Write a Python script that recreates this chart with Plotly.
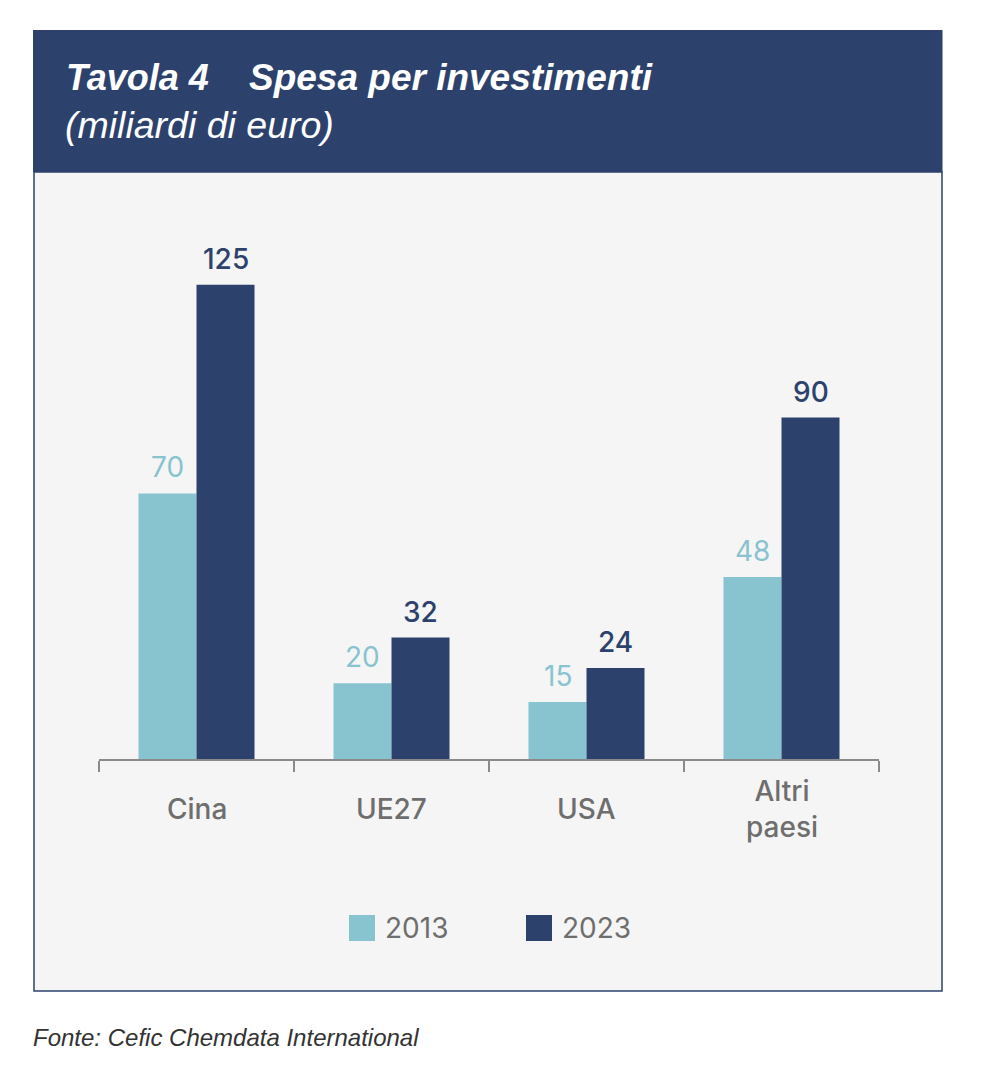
import plotly.graph_objects as go

categories = ["Cina", "UE27", "USA", "Altri<br>paesi"]
series_names = ["2013", "2023"]
values_2013 = [70, 20, 15, 48]
values_2023 = [125, 32, 24, 90]

title_main = "Tavola 4"
title_sub = "Spesa per investimenti"
subtitle = "(miliardi di euro)"
source = "Fonte: Cefic Chemdata International"

LIGHT = "#88c3d0"
NAVY = "#2c426c"
GRAY = "#6e6e6e"
FONT = "Liberation Sans, Arial, Helvetica, sans-serif"
LFONT = "Inter, Liberation Sans, Arial, sans-serif"

OFF = 8  # page body margin
W, H = 987 - 2 * OFF, 1082 - 2 * OFF
PL, PR, PT, PB = 99, 879, 209, 759  # plot area bounds in reference pixels


def fx(px):
    return (px - PL) / (PR - PL)


def fy(py):
    return (PB - py) / (PB - PT)


fig = go.Figure()
for name, vals, col in [(series_names[0], values_2013, LIGHT), (series_names[1], values_2023, NAVY)]:
    fig.add_trace(go.Bar(
        x=categories, y=vals, name=name,
        marker=dict(color=col, line=dict(width=0)),
        showlegend=False, hoverinfo="x+y+name",
    ))

shapes = [
    dict(type="rect", xref="paper", yref="paper", layer="below",
         x0=fx(34), x1=fx(942), y0=fy(991), y1=fy(172),
         fillcolor="#f5f5f5", line=dict(color=NAVY, width=1.5)),
    dict(type="rect", xref="paper", yref="paper", layer="below",
         x0=fx(33), x1=fx(942.5), y0=fy(172), y1=fy(30),
         fillcolor=NAVY, line=dict(width=0)),
]

annotations = [
    dict(text="<b><i>%s</i></b>" % title_main, xref="paper", yref="paper",
         x=fx(64), y=fy(77), xanchor="left", yanchor="middle", showarrow=False,
         font=dict(family=FONT, size=36, color="white")),
    dict(text="<b><i>%s</i></b>" % title_sub, xref="paper", yref="paper",
         x=fx(247), y=fy(77), xanchor="left", yanchor="middle", showarrow=False,
         font=dict(family=FONT, size=37, color="white")),
    dict(text="<i>%s</i>" % subtitle, xref="paper", yref="paper",
         x=fx(63), y=fy(125), xanchor="left", yanchor="middle", showarrow=False,
         font=dict(family=FONT, size=37.5, color="white")),
    dict(text="<i>%s</i>" % source, xref="paper", yref="paper",
         x=fx(31), y=fy(1037), xanchor="left", yanchor="middle", showarrow=False,
         font=dict(family=FONT, size=24, color="#333333")),
]

# value labels above bars
for vals, col, shift, weight in [(values_2013, LIGHT, -29, 400), (values_2023, NAVY, 29, 500)]:
    for c, v in zip(categories, vals):
        annotations.append(dict(text=str(v), xref="x", yref="y", x=c, y=v,
                                xshift=shift, yshift=7, xanchor="center", yanchor="bottom",
                                showarrow=False,
                                font=dict(family=LFONT, size=28, color=col, weight=weight)))

# category labels
for c in categories:
    annotations.append(dict(text=c, xref="x", yref="paper", x=c, y=fy(809),
                            xanchor="center", yanchor="middle", showarrow=False,
                            font=dict(family=LFONT, size=28, color=GRAY, weight=500)))

# manual legend
leg_x = [349, 526]
for i, (name, col) in enumerate(zip(series_names, [LIGHT, NAVY])):
    x0 = leg_x[i]
    shapes.append(dict(type="rect", xref="paper", yref="paper",
                       x0=fx(x0), x1=fx(x0 + 26), y0=fy(941), y1=fy(915),
                       fillcolor=col, line=dict(width=0)))
    annotations.append(dict(text=name, xref="paper", yref="paper",
                            x=fx(x0 + 34), y=fy(928), xanchor="left", yanchor="middle",
                            showarrow=False, font=dict(family=LFONT, size=28, color=GRAY)))

fig.update_layout(
    width=W, height=H,
    margin=dict(l=PL - OFF, r=W - (PR - OFF), t=PT - OFF, b=H - (PB - OFF), pad=0),
    paper_bgcolor="white", plot_bgcolor="rgba(0,0,0,0)",
    barmode="group", bargap=0.405, bargroupgap=0,
    showlegend=False,
    shapes=shapes, annotations=annotations,
    xaxis=dict(showline=True, linecolor="#8a8a8a", linewidth=2,
               ticks="outside", tickson="boundaries", ticklen=11,
               tickcolor="#8a8a8a", tickwidth=2, showticklabels=False,
               showgrid=False, zeroline=False, range=[-0.5, 3.5]),
    yaxis=dict(range=[0, 145], visible=False, showgrid=False, zeroline=False),
)

fig.write_html("out.html")
